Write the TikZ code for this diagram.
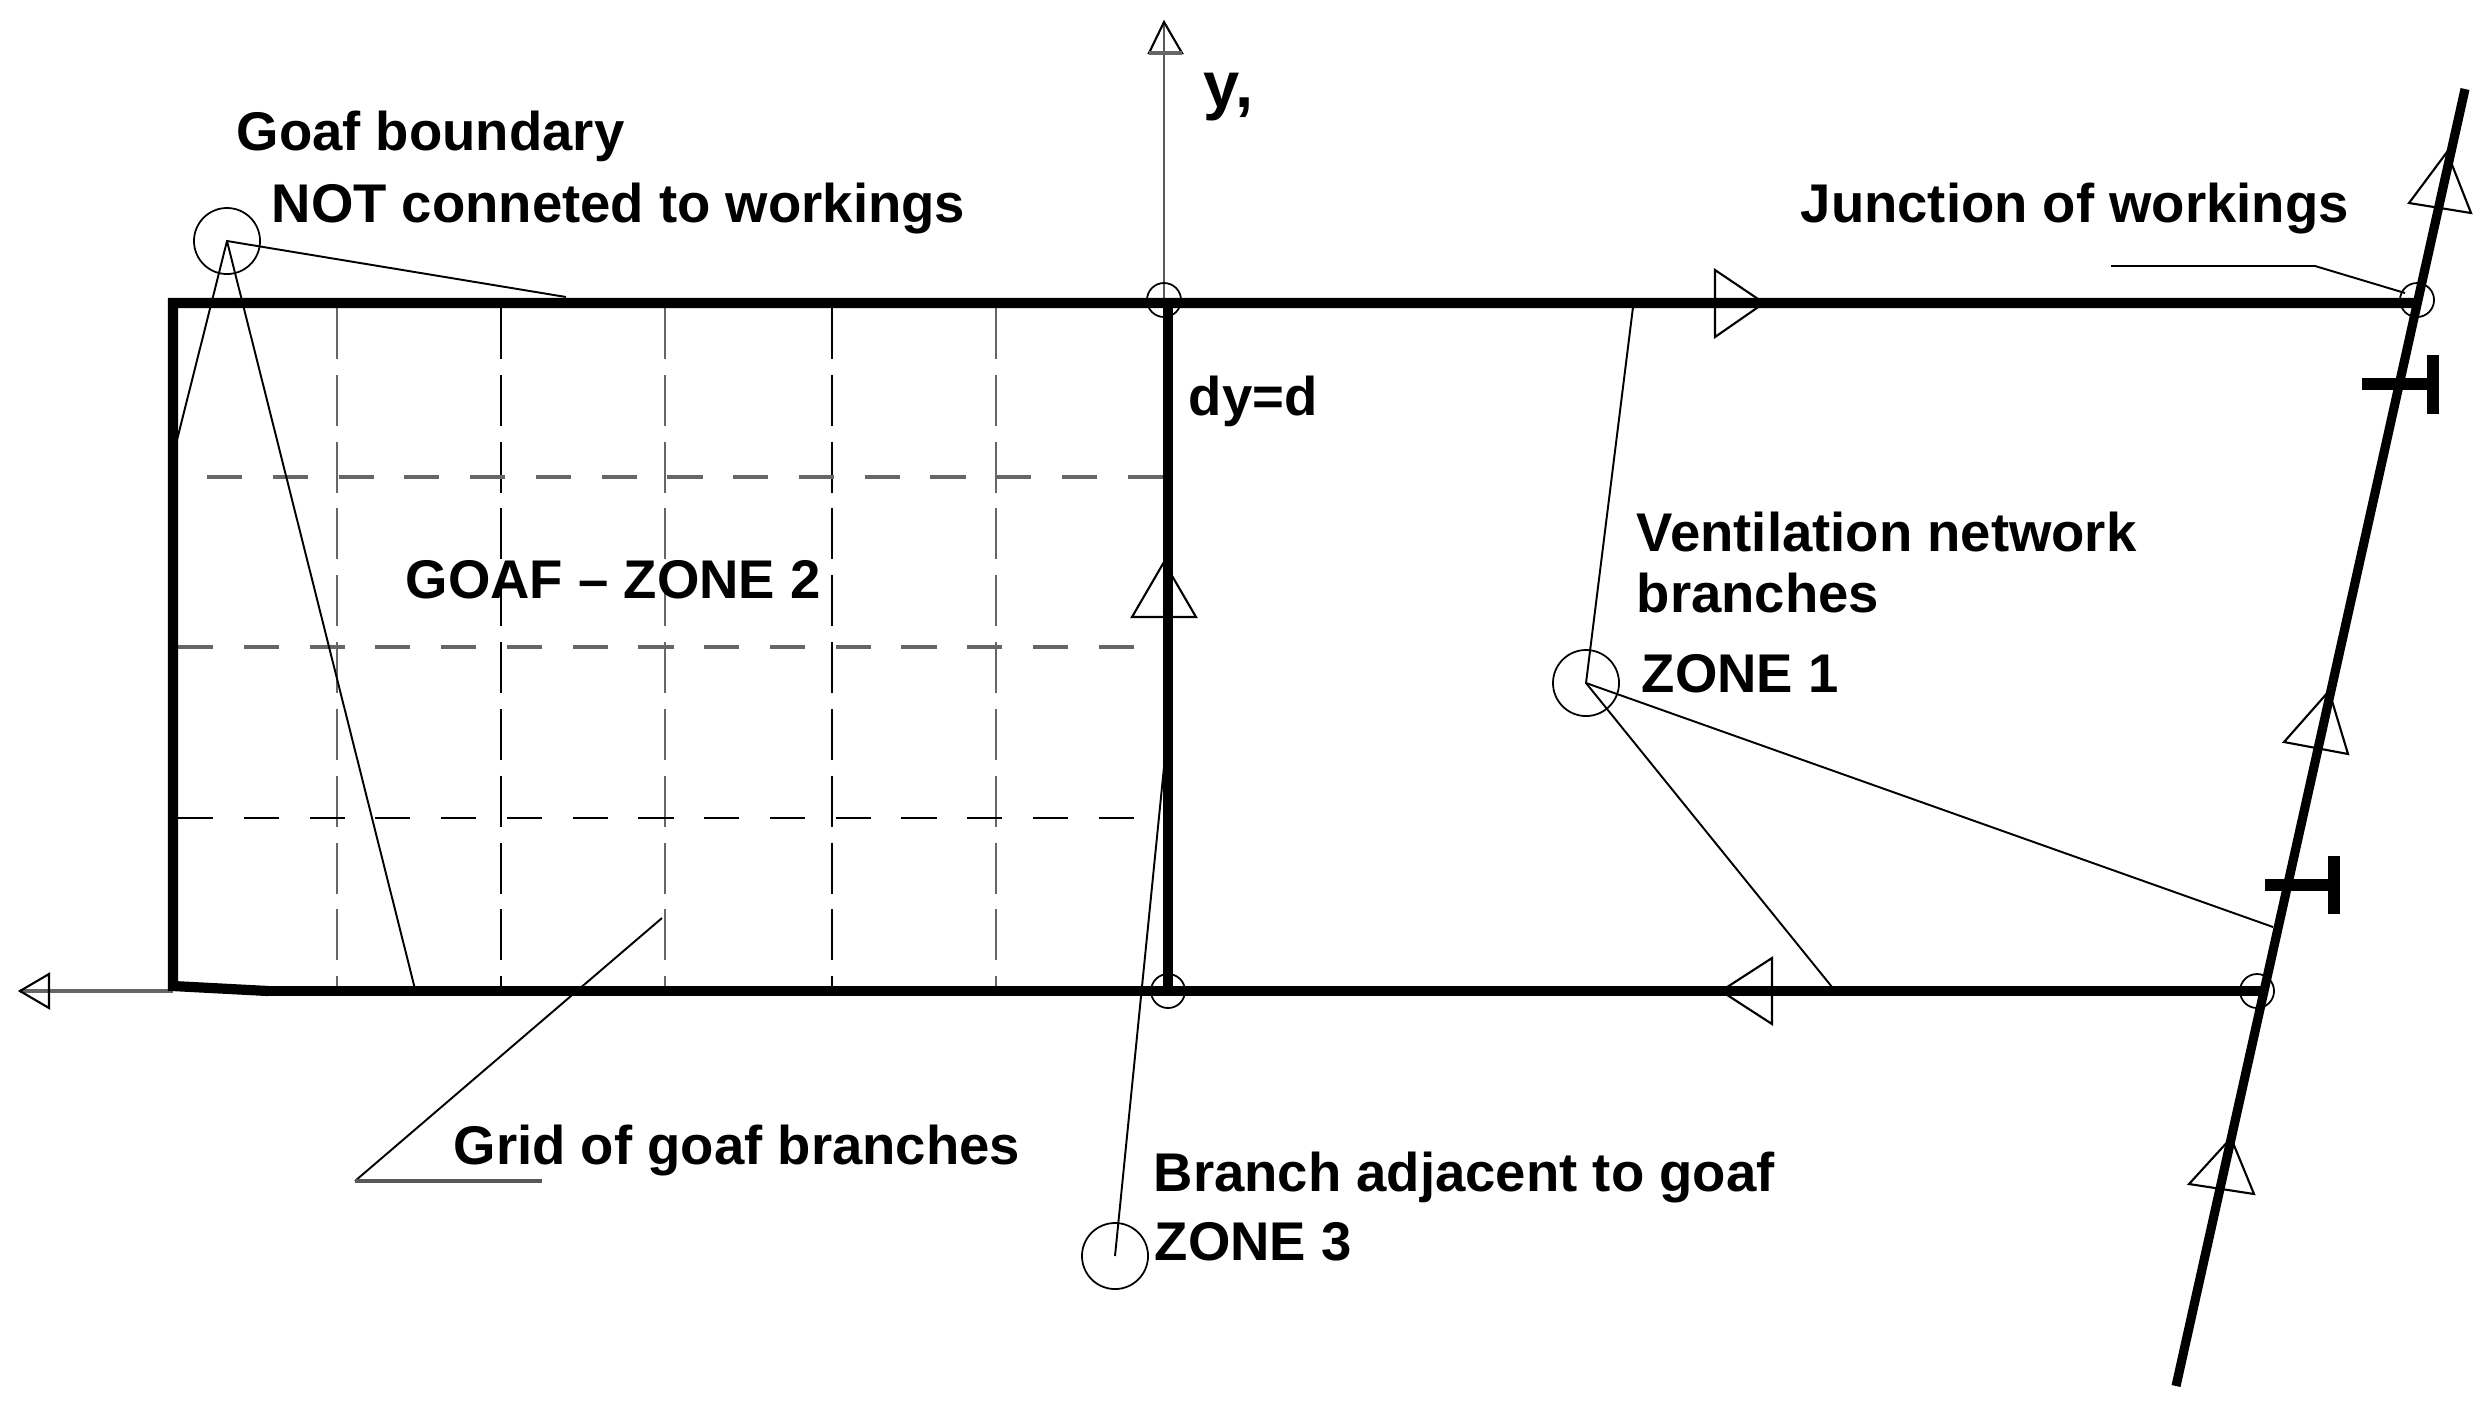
\documentclass[tikz,border=0pt]{standalone}
\usepackage{fontspec}
\setmainfont{Liberation Sans}

\tikzset{
  lbl/.style={anchor=base west, inner sep=0pt, font=\fontsize{15.5}{18}\selectfont\bfseries},
  ringbig/.style={circle, draw=black, line width=0.5pt, minimum size=0.66cm, inner sep=0pt},
  ringsmall/.style={circle, draw=black, line width=0.5pt, minimum size=0.34cm, inner sep=0pt},
  airway/.style={line width=2.9pt, line cap=butt},
  leader/.style={line width=0.55pt, black},
  dirtip/.style={line width=0.6pt, black},
  griddark/.style={line width=0.5pt, black, dash pattern=on 14.5pt off 4.5pt},
  gridgray/.style={line width=0.8pt, black!60, dash pattern=on 14.5pt off 4.5pt},
  griddarkh/.style={line width=0.65pt, black, dash pattern=on 10pt off 8.7pt},
  gridgrayh/.style={line width=1.1pt, black!60, dash pattern=on 10pt off 8.7pt},
  stopping/.style={line width=3.4pt}
}

\begin{document}
\begin{tikzpicture}[x=0.01cm,y=-0.01cm]
\useasboundingbox (0,0) rectangle (2491,1408);

% Main corners
\coordinate (goafnw) at (173,303);
\coordinate (goafsw) at (173,986);
\coordinate (goafs) at (268,991);
\coordinate (facetop) at (1168,303);
\coordinate (facebot) at (1168,991);
\coordinate (jtop) at (2415,303);
\coordinate (jbot) at (2263,991);
\coordinate (shafttop) at (2465,89);
\coordinate (shaftbot) at (2176,1386);

% Axes
\coordinate (ytip) at (1164,22);
\coordinate (xtip) at (20,991);
\draw[line width=0.6pt, black!65] (1164,300) -- (ytip);
\draw[line width=0.9pt, black!60] (goafsw |- xtip) -- (xtip);
\draw[dirtip] (ytip) -- (1149,53) -- (1182,53) -- cycle;
\draw[line width=1pt, black!60] (1149,53) -- (1182,53);
\draw[dirtip] (xtip) -- (49,974) -- (49,1008) -- cycle;

% Grid of goaf
\foreach \gx in {337,665,996}
  \draw[gridgray] (\gx,308) -- (\gx,988);
\foreach \gx in {501,832}
  \draw[griddark] (\gx,308) -- (\gx,988);
\draw[gridgrayh] (207,477) -- (1165,477);
\draw[gridgrayh] (178,647) -- (1165,647);
\draw[griddarkh] (178,818) -- (1140,818);

% Workings
\draw[airway, line join=miter] (goafs) -- (goafsw) -- (goafnw) -- (jtop);
\draw[airway] (goafs) -- (jbot);
\draw[airway] (facetop) -- (facebot);
\draw[line width=2.6pt] (shafttop) -- (shaftbot);

% Regulators
\draw[stopping] (2362,384) -- (2433,384);
\draw[stopping] (2433,355) -- (2433,414);
\draw[stopping] (2265,885) -- (2334,885);
\draw[stopping] (2334,856) -- (2334,914);

% Flow directions
\draw[dirtip] (1764,303) -- (1715,270) -- (1715,337) -- cycle;
\draw[dirtip] (1721,991) -- (1772,958) -- (1772,1024) -- cycle;
\draw[dirtip] (1164,562) -- (1132,617) -- (1196,617) -- cycle;
\draw[dirtip] (2447,152) -- (2409,203) -- (2471,213) -- cycle;
\draw[dirtip] (2329,691) -- (2284,742) -- (2348,754) -- cycle;
\draw[dirtip] (2231,1138) -- (2189,1184) -- (2254,1194) -- cycle;

% Rings
\node[ringbig] (ringboundary) at (227,241) {};
\node[ringbig] (ringzoneone) at (1586,683) {};
\node[ringbig] (ringzonethree) at (1115,1256) {};
\node[ringsmall] (ringorigin) at (1164,300) {};
\node[ringsmall] (ringfacebot) at (1168,991) {};
\node[ringsmall] (ringjtop) at (2417,300) {};
\node[ringsmall] (ringjbot) at (2257,991) {};

% Leaders
\coordinate (bndtop) at (566,297);
\coordinate (bndleft) at (177,440);
\coordinate (bndbot) at (415,989);
\draw[leader] (bndtop) -- (ringboundary.center) -- (bndleft);
\draw[leader] (ringboundary.center) -- (bndbot);
\coordinate (netup) at (1634,299);
\coordinate (netright) at (2273,927);
\coordinate (netbot) at (1832,987);
\draw[leader] (netup) -- (ringzoneone.center) -- (netright);
\draw[leader] (ringzoneone.center) -- (netbot);
\coordinate (adjtop) at (1168,727);
\draw[leader] (ringzonethree.center) -- (adjtop);
\coordinate (gridtip) at (662,918);
\coordinate (gridknee) at (355,1181);
\coordinate (gridend) at (542,1181);
\draw[leader] (gridtip) -- (gridknee);
\draw[line width=0.9pt, black!65] (gridknee) -- (gridend);
\coordinate (junctail) at (2111,266);
\coordinate (junknee) at (2315,266);
\coordinate (junend) at (2405,293);
\draw[leader] (junctail) -- (junknee) -- (junend);

% Labels
\node[lbl, font=\fontsize{18.5}{20}\selectfont\bfseries] (lbly) at (1203,107) {y,};
\node[lbl] (lblboundary) at (236,150) {Goaf boundary};
\node[lbl] (lblnot) at (271,222) {NOT conneted to workings};
\node[lbl] (lbljunction) at (1800,222) {Junction of workings};
\node[lbl] (lbldy) at (1188,415) {dy=d};
\node[lbl] (lblgoaf) at (405,598) {GOAF -- ZONE 2};
\node[lbl] (lblvent) at (1636,551) {Ventilation network};
\node[lbl] (lblbranches) at (1636,612) {branches};
\node[lbl] (lblzoneone) at (1641,692) {ZONE 1};
\node[lbl] (lblgrid) at (453,1164) {Grid of goaf branches};
\node[lbl] (lbladjacent) at (1153,1191) {Branch adjacent to goaf};
\node[lbl] (lblzonethree) at (1154,1260) {ZONE 3};
\end{tikzpicture}
\end{document}
